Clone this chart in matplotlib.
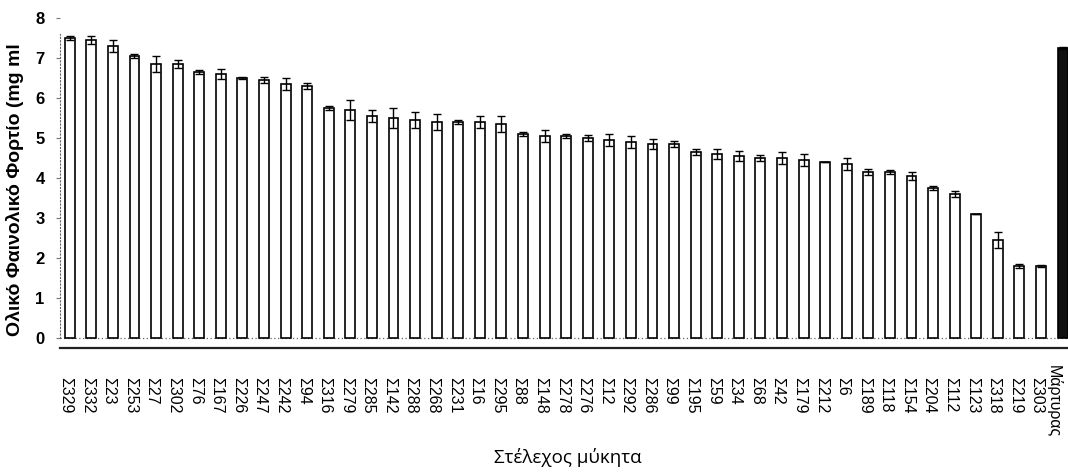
import numpy as np
import matplotlib
matplotlib.use("Agg")
from matplotlib import pyplot as plt
from matplotlib import transforms

plt.rcParams['font.family'] = ['Liberation Sans', 'DejaVu Sans']

# Strains (x categories), mean total phenolic content and error.
strains = ["Σ329", "Σ332", "Σ23", "Σ253", "Σ27", "Σ302", "Σ76", "Σ167", "Σ226",
           "Σ247", "Σ242", "Σ94", "Σ316", "Σ279", "Σ285", "Σ142", "Σ288", "Σ268",
           "Σ231", "Σ16", "Σ295", "Σ88", "Σ148", "Σ278", "Σ276", "Σ12", "Σ292",
           "Σ286", "Σ99", "Σ195", "Σ59", "Σ34", "Σ68", "Σ42", "Σ179", "Σ212",
           "Σ6", "Σ189", "Σ118", "Σ154", "Σ204", "Σ112", "Σ123", "Σ318", "Σ219",
           "Σ303", "Μάρτυρας"]
values = [7.50, 7.45, 7.30, 7.05, 6.85, 6.85, 6.65, 6.60, 6.50,
          6.45, 6.35, 6.30, 5.75, 5.70, 5.55, 5.50, 5.45, 5.40,
          5.40, 5.40, 5.35, 5.10, 5.05, 5.05, 5.00, 4.95, 4.90,
          4.85, 4.85, 4.65, 4.60, 4.55, 4.50, 4.50, 4.45, 4.40,
          4.35, 4.15, 4.15, 4.05, 3.75, 3.60, 3.10, 2.45, 1.80,
          1.80, 7.25]
errors = [0.05, 0.10, 0.15, 0.04, 0.20, 0.10, 0.04, 0.12, 0.03,
          0.08, 0.15, 0.07, 0.05, 0.25, 0.15, 0.25, 0.20, 0.20,
          0.04, 0.15, 0.20, 0.04, 0.15, 0.04, 0.08, 0.15, 0.15,
          0.12, 0.08, 0.08, 0.12, 0.12, 0.08, 0.15, 0.15, 0.0,
          0.15, 0.07, 0.05, 0.10, 0.05, 0.07, 0.0, 0.20, 0.05,
          0.03, 0.03]
yticks = [0, 1, 2, 3, 4, 5, 6, 7, 8]

fig = plt.figure(figsize=(10.68, 4.72), dpi=100)
ax = fig.add_axes([0.056, 0.263, 0.944, 0.699])

x = np.arange(len(strains))
colors = ["white"] * (len(strains) - 1) + ["#111111"]
ax.bar(x, values, width=0.46, color=colors, edgecolor="black", linewidth=1.2,
       yerr=errors, capsize=3, error_kw=dict(elinewidth=1, capthick=1, ecolor="black"),
       zorder=3)

ax.set_xlim(-0.46, len(strains) - 1 + 0.25)
ax.set_ylim(-0.25, 8)

ax.set_yticks(yticks)
ax.set_yticklabels([str(t) for t in yticks], fontsize=12, fontweight="bold")
ax.tick_params(axis="y", length=3, width=0.8, color="#777777", pad=8)

ax.set_xticks(x)
ax.set_xticklabels(strains, rotation=-90, fontsize=11.5)
ax.tick_params(axis="x", length=0, pad=21)
# labels sit slightly left of their bars; the last one more so, and higher
labels = ax.get_xticklabels()
for lab in labels[:-1]:
    lab.set_transform(lab.get_transform() +
                      transforms.ScaledTranslation(-0.04, 0, fig.dpi_scale_trans))
labels[-1].set_transform(labels[-1].get_transform() +
                         transforms.ScaledTranslation(-0.09, 0.12, fig.dpi_scale_trans))

# dotted left axis and zero line, solid base line below
for side in ["top", "right"]:
    ax.spines[side].set_visible(False)
ax.spines["left"].set_linestyle((0, (1, 2)))
ax.spines["left"].set_color("#666666")
ax.spines["left"].set_bounds(0, 7.6)
ax.spines["bottom"].set_linewidth(1.6)
ax.spines["bottom"].set_color("#222222")
ax.axhline(0, color="#666666", linestyle=(0, (1, 2)), linewidth=0.9, zorder=1)

ax.set_ylabel("Ολικό Φαινολικό Φορτίο (mg ml", fontsize=14, fontweight="bold")
ax.yaxis.set_label_coords(-0.036, 0.48)
ax.set_xlabel("Στέλεχος μύκητα", fontsize=13.5, family=["Open Sans", "DejaVu Sans"])
ax.xaxis.set_label_coords(0.504, -0.305)

fig.savefig("out.png", dpi=100)
